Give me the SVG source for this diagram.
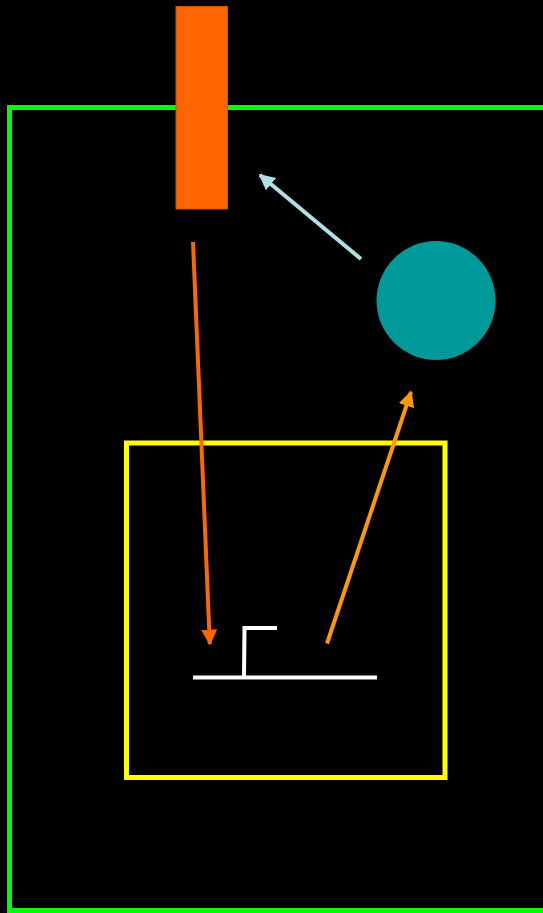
<svg xmlns="http://www.w3.org/2000/svg" width="543" height="913" viewBox="0 0 543 913">
<defs>
<style>
.conn{fill:none;stroke-width:4}
</style>
<marker id="mOr" viewBox="0 0 10 10" refX="9" refY="5" markerWidth="4" markerHeight="4" orient="auto"><path d="M0,0 L10,5 L0,10 z" fill="#FF6600"/></marker>
<marker id="mAm" viewBox="0 0 10 10" refX="9" refY="5" markerWidth="4" markerHeight="4" orient="auto"><path d="M0,0 L10,5 L0,10 z" fill="#FF9900"/></marker>
<marker id="mBl" viewBox="0 0 10 10" refX="9" refY="5" markerWidth="4" markerHeight="4" orient="auto"><path d="M0,0 L10,5 L0,10 z" fill="#B0E0E6"/></marker>
</defs>
<rect width="543" height="913" fill="#000"/>
<g id="outer"><rect x="9.5" y="107.5" width="545" height="803" fill="none" stroke="#00FF00" stroke-width="5"/></g>
<g id="orangebar"><rect x="176" y="6.5" width="51.5" height="202.5" fill="#FF6600" stroke="#CC5200" stroke-width="1"/></g>
<g id="circle"><circle cx="436" cy="300.5" r="59.5" fill="#009999"/></g>
<g id="inner"><rect x="126.5" y="443" width="318.5" height="334.5" fill="none" stroke="#FFFF00" stroke-width="5"/></g>
<g id="symbol" stroke="#FFFFFF" stroke-width="4" fill="none">
<line x1="193" y1="677.5" x2="377" y2="677.5"/>
<polyline points="244,677 244.5,628 277,628"/>
</g>
<g id="connectors">
<line class="conn" x1="193" y1="242" x2="209.8" y2="644" stroke="#FF6600" marker-end="url(#mOr)"/>
<line class="conn" x1="327" y1="643.5" x2="411" y2="392" stroke="#FF9900" marker-end="url(#mAm)"/>
<line class="conn" x1="361" y1="259" x2="260" y2="175" stroke="#B0E0E6" marker-end="url(#mBl)"/>
</g>
</svg>
